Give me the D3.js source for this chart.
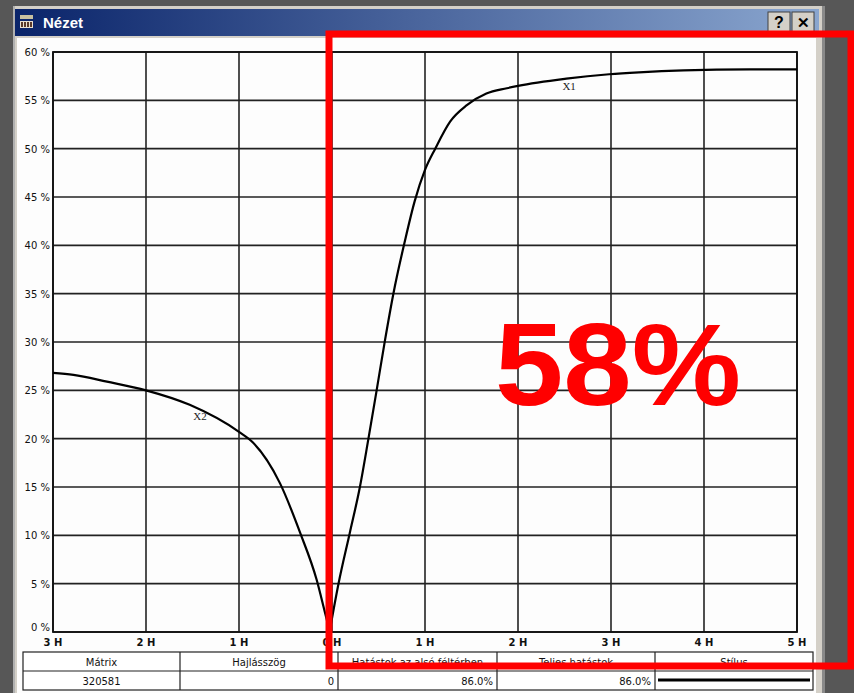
<!DOCTYPE html>
<html><head><meta charset="utf-8">
<script src="https://cdn.jsdelivr.net/npm/d3@7"></script>
<style>html,body{margin:0;padding:0;background:#575757;}svg{display:block;}</style>
</head><body>
<script>
// ---- data ----
const yTicks = [0,5,10,15,20,25,30,35,40,45,50,55,60];
const xTicks = [-3,-2,-1,0,1,2,3,4,5];
const xTickLabels = ["3 H","2 H","1 H","0 H","1 H","2 H","3 H","4 H","5 H"];
const x2X = [-3,-2.78,-2.42,-2,-1.53,-1,-0.85,-0.56,-0.34,-0.165,-0.075,-0.025];
const x2Y = [26.8,26.6,25.9,25.0,23.5,20.7,19.6,15.4,10.2,5.4,2.0,0.1];
const x1X = [-0.025,0.07,0.19,0.30,0.39,0.48,0.57,0.66,0.785,0.89,1.0,1.11,1.27,1.45,1.66,1.88,2.0,2.52,2.98,3.3,3.78,4.49,5.0];
const x1Y = [0.1,5.0,10.2,15.0,19.9,25.0,30.2,35.0,40.5,44.6,47.8,50.0,52.8,54.5,55.7,56.25,56.5,57.25,57.7,57.9,58.1,58.2,58.2];
const seriesLabels = [{name:"X1", x:2.55, y:57.3},{name:"X2", x:-1.42, y:23.2}];
const tableHeaders = ["Mátrix","Hajlásszög","Hatástok az alsó féltérben","Teljes hatástok","Stílus"];
const tableValues = ["320581","0","86.0%","86.0%",""];
const bigLabel = "58%";
const windowTitle = "Nézet";

const W=854,H=693;
const svg=d3.select("body").append("svg").attr("width",W).attr("height",H);
const defs=svg.append("defs");
const g1=defs.append("linearGradient").attr("id","tb").attr("x1","0").attr("x2","1");
g1.append("stop").attr("offset","0").attr("stop-color","#0a246a");
g1.append("stop").attr("offset","1").attr("stop-color","#8aa6cf");

svg.append("rect").attr("width",W).attr("height",H).attr("fill","#575757");
// window frame
svg.append("rect").attr("x",13).attr("y",6).attr("width",811).attr("height",700).attr("fill","#d4d0c8");
svg.append("rect").attr("x",822).attr("y",6).attr("width",3).attr("height",700).attr("fill","#8a8a8a");
svg.append("rect").attr("x",13).attr("y",6).attr("width",2).attr("height",700).attr("fill","#b0b0b0");
svg.append("rect").attr("x",15).attr("y",9).attr("width",804).attr("height",27).attr("fill","url(#tb)");
// icon
const ic=svg.append("g").attr("transform","translate(20,15)");
ic.append("rect").attr("width",13).attr("height",4).attr("fill","#c8c0a0");
ic.append("rect").attr("y",6).attr("width",13).attr("height",7).attr("fill","#e8e0d0");
[1,4,7,10].forEach(d=>ic.append("rect").attr("x",d).attr("y",7).attr("width",2).attr("height",5).attr("fill","#5a3a2a"));
svg.append("text").attr("x",43).attr("y",28).text(windowTitle)
  .attr("fill","#fff").attr("font-family","Liberation Sans, Arial, sans-serif").attr("font-weight","bold").attr("font-size",15);
// buttons
[{x:768,t:"?"},{x:792,t:"✕"}].forEach(b=>{
  svg.append("rect").attr("x",b.x).attr("y",12).attr("width",22).attr("height",20).attr("fill","#d4d0c8").attr("stroke","#404040").attr("stroke-width",1);
  svg.append("text").attr("x",b.x+11).attr("y",28).attr("text-anchor","middle").text(b.t)
    .attr("font-family","Liberation Sans, Arial, sans-serif").attr("font-weight","bold").attr("font-size",b.t==="?"?16:15).attr("fill","#000");
});
// client area
svg.append("rect").attr("x",17).attr("y",38).attr("width",799).attr("height",660).attr("fill","#fdfdfd");

// ---- chart ----
const x=d3.scaleLinear().domain([-3,5]).range([53,797]);
const y=d3.scaleLinear().domain([0,60]).range([632,52]);
const chart=svg.append("g");
chart.append("g").selectAll("line").data(yTicks).join("line")
  .attr("x1",x(-3)).attr("x2",x(5)).attr("y1",d=>y(d)).attr("y2",d=>y(d))
  .attr("stroke","#222").attr("stroke-width",1.6);
chart.append("g").selectAll("line").data(xTicks).join("line")
  .attr("y1",y(0)).attr("y2",y(60)).attr("x1",d=>x(d)).attr("x2",d=>x(d))
  .attr("stroke","#222").attr("stroke-width",1.6);
chart.append("rect").attr("x",x(-3)).attr("y",y(60)).attr("width",x(5)-x(-3)).attr("height",y(0)-y(60))
  .attr("fill","none").attr("stroke","#111").attr("stroke-width",1.8);

const font="DejaVu Sans, Verdana, sans-serif";
chart.append("g").selectAll("text").data(yTicks).join("text")
  .attr("x",50).attr("y",d=>y(d)+ (d===0?-1:4)).attr("text-anchor","end")
  .attr("font-family",font).attr("font-size",10).attr("fill","#111").text(d=>d+" %");
chart.append("g").selectAll("text").data(xTicks).join("text")
  .attr("x",d=>x(d)).attr("y",646).attr("text-anchor","middle")
  .attr("font-family",font).attr("font-size",10).attr("font-weight","bold").attr("fill","#111")
  .text((d,i)=>xTickLabels[i]);

const line=d3.line().x(d=>x(d[0])).y(d=>y(d[1])).curve(d3.curveMonotoneX);
chart.append("path").attr("d",line(x2X.map((v,i)=>[v,x2Y[i]]))).attr("fill","none").attr("stroke","#000").attr("stroke-width",2.2);
chart.append("path").attr("d",line(x1X.map((v,i)=>[v,x1Y[i]]))).attr("fill","none").attr("stroke","#000").attr("stroke-width",2.2);
chart.append("g").selectAll("text").data(seriesLabels).join("text")
  .attr("x",d=>x(d.x)).attr("y",d=>y(d.y)+12).attr("text-anchor","middle")
  .attr("font-family","Liberation Serif, serif").attr("font-size",11).attr("fill","#222").text(d=>d.name);

// ---- table ----
const colX=[23,180,338,497,655,813];
const tRow=[652,671,690];
const tb=svg.append("g");
tb.append("rect").attr("x",colX[0]).attr("y",tRow[0]).attr("width",colX[5]-colX[0]).attr("height",tRow[2]-tRow[0])
  .attr("fill","#fff").attr("stroke","#222").attr("stroke-width",1.2);
tb.append("line").attr("x1",colX[0]).attr("x2",colX[5]).attr("y1",tRow[1]).attr("y2",tRow[1]).attr("stroke","#222").attr("stroke-width",1.2);
colX.slice(1,5).forEach(c=>tb.append("line").attr("x1",c).attr("x2",c).attr("y1",tRow[0]).attr("y2",tRow[2]).attr("stroke","#222").attr("stroke-width",1.2));
tableHeaders.forEach((h,i)=>tb.append("text").attr("x",(colX[i]+colX[i+1])/2).attr("y",666).attr("text-anchor","middle")
  .attr("font-family",font).attr("font-size",10).attr("fill","#111").text(h));
tableValues.forEach((v,i)=>{
  if(i===4) return;
  tb.append("text").attr("x",i===0?(colX[0]+colX[1])/2:colX[i+1]-4).attr("y",685)
    .attr("text-anchor",i===0?"middle":"end").attr("font-family",font).attr("font-size",10).attr("fill","#111").text(v);
});
tb.append("line").attr("x1",colX[4]+3).attr("x2",colX[5]-3).attr("y1",680).attr("y2",680).attr("stroke","#000").attr("stroke-width",3);

// ---- red overlay ----
svg.append("rect").attr("x",329).attr("y",34).attr("width",522).attr("height",632)
  .attr("fill","none").attr("stroke","#ff0000").attr("stroke-width",7);
svg.append("text").attr("x",495).attr("y",405)
  .attr("font-family","Liberation Sans, Arial, sans-serif").attr("font-weight","bold").attr("font-size",116)
  .attr("textLength",246).attr("lengthAdjust","spacingAndGlyphs")
  .attr("fill","#ff0000").text(bigLabel);
</script>
</body></html>
